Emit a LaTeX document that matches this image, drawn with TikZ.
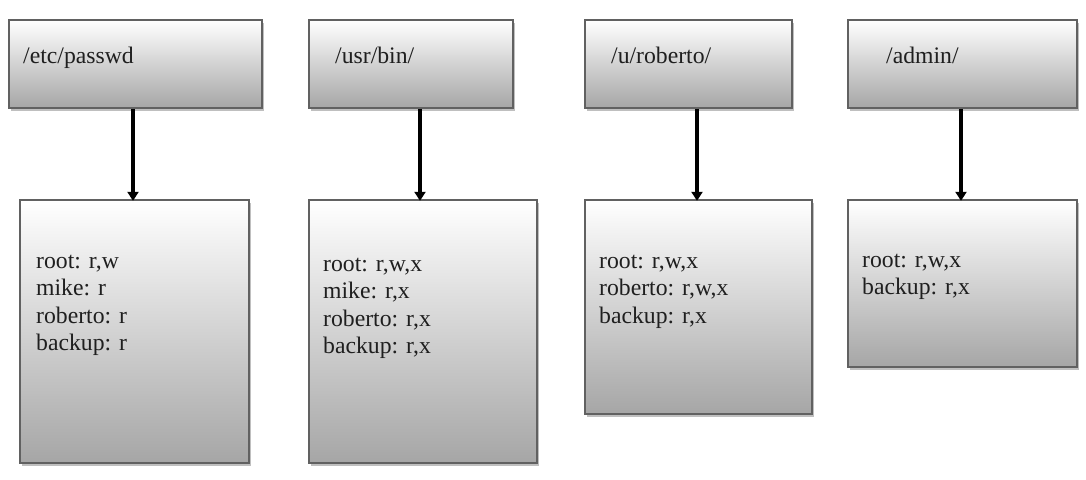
\documentclass[tikz,border=0pt]{standalone}
\usepackage{fontspec}
\setmainfont{Liberation Serif}
\usetikzlibrary{arrows.meta,shadows}
\tikzset{
  box/.style={rectangle, draw=black!62, line width=1.6pt, top color=white, bottom color=black!35,
    drop shadow={shadow xshift=2pt, shadow yshift=-2.5pt, opacity=0.25, fill=black}, inner sep=0pt},
  lbl/.style={anchor=base west, inner sep=0pt, text=black!88, font=\fontsize{23.7}{27.5}\selectfont},
  arr/.style={line width=3.6pt, black, -{Triangle[width=11pt,length=9pt]}}
}
\begin{document}
\begin{tikzpicture}[x=1pt,y=-1pt]
\useasboundingbox (0,0) rectangle (1086,479);
% top boxes
\node[box, minimum width=253pt, minimum height=88pt] (t1) at (135.5,64) {};
\node[box, minimum width=204pt, minimum height=88pt] (t2) at (411,64) {};
\node[box, minimum width=207pt, minimum height=88pt] (t3) at (688.5,64) {};
\node[box, minimum width=229pt, minimum height=88pt] (t4) at (962.5,64) {};
% bottom boxes
\node[box, minimum width=229pt, minimum height=263pt] (b1) at (134.5,331.5) {};
\node[box, minimum width=228pt, minimum height=263pt] (b2) at (423,331.5) {};
\node[box, minimum width=227pt, minimum height=214pt] (b3) at (698.5,307) {};
\node[box, minimum width=229pt, minimum height=167pt] (b4) at (962.5,283.5) {};
% labels
\node[lbl] (l1) at (23,63) {/etc/passwd};
\node[lbl] (l2) at (335,63) {/usr/bin/};
\node[lbl] (l3) at (611,63) {/u/roberto/};
\node[lbl] (l4) at (886,63) {/admin/};
\node[lbl] (p1) at (36,268) {\begin{tabular}[t]{@{}l@{}}root: r,w\\mike: r\\roberto: r\\backup: r\end{tabular}};
\node[lbl] (p2) at (323,271) {\begin{tabular}[t]{@{}l@{}}root: r,w,x\\mike: r,x\\roberto: r,x\\backup: r,x\end{tabular}};
\node[lbl] (p3) at (599,268) {\begin{tabular}[t]{@{}l@{}}root: r,w,x\\roberto: r,w,x\\backup: r,x\end{tabular}};
\node[lbl] (p4) at (862,267) {\begin{tabular}[t]{@{}l@{}}root: r,w,x\\backup: r,x\end{tabular}};
% arrows
\draw[arr] (t1.south -| b1.north) ++(-1.5,0) -- ++(0,92);
\draw[arr] (b2.north |- t2.south) ++(-3,0) -- ++(0,92);
\draw[arr] (b3.north |- t3.south) ++(-1.5,0) -- ++(0,92);
\draw[arr] (b4.north |- t4.south) ++(-1.5,0) -- ++(0,92);
\end{tikzpicture}
\end{document}
